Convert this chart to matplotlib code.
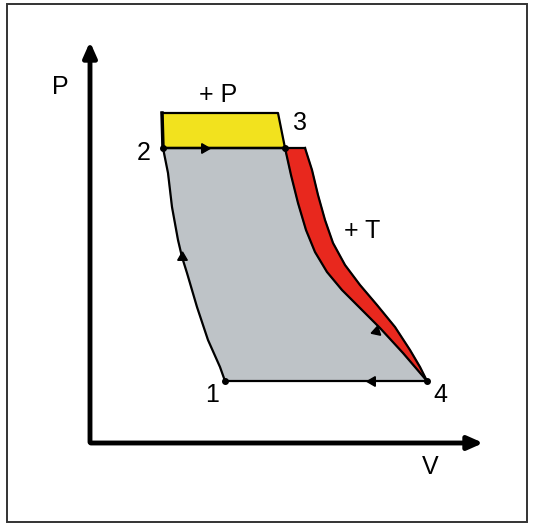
import matplotlib.pyplot as plt
import matplotlib.patches as mpatches
import numpy as np

# 点的坐标 (V, P)，从图上读出来的
v12 = [3.375, 3.25, 2.95, 2.675, 2.425, 2.3, 2.2, 2.05, 1.95, 1.825]
p12 = [1.55, 1.9, 2.575, 3.4, 4.25, 4.65, 5.075, 5.9, 6.75, 7.375]

v34 = [4.875, 5.025, 5.2, 5.4, 5.625, 5.925, 6.3, 6.75, 7.25, 7.825, 8.425]
p34 = [7.375, 6.7, 6.0, 5.325, 4.775, 4.275, 3.825, 3.375, 2.875, 2.25, 1.55]

# 红色区域外边界（+T）
v_red = [5.375, 5.55, 5.7, 5.875, 6.075, 6.375, 6.75, 7.175, 7.625, 8.0, 8.25, 8.425]
p_red = [7.375, 6.825, 6.2, 5.575, 5.0, 4.45, 3.95, 3.45, 2.9, 2.325, 1.9, 1.55]

# 黄色区域（+P）
v_yel = [1.8, 4.7, 4.875, 1.825]
p_yel = [8.25, 8.25, 7.375, 7.375]

# 状态点标签
labels = ["1", "2", "3", "4"]
label_v = [3.05, 1.35, 5.25, 8.75]
label_p = [1.2, 7.25, 8.0, 1.2]

fig = plt.figure(figsize=(5.34, 5.25), dpi=100)
ax = fig.add_axes([0, 0, 1, 1])
ax.set_xlim(-2.25, 11.1)
ax.set_ylim(-2.05, 11.075)
ax.axis("off")

# 外框
fig.patches.append(mpatches.Rectangle((7/534, 3/525), 520/534, 518/525, transform=fig.transFigure,
                                      fill=False, edgecolor="#333333", linewidth=1.4))

# 灰色循环区域
cyc_v = v12 + v34 + [v12[0]]
cyc_p = p12 + p34 + [p12[0]]
ax.fill(cyc_v, cyc_p, color="#bec3c7", zorder=1)

# 红色区域
red_v = v34 + v_red[::-1]
red_p = p34 + p_red[::-1]
ax.fill(red_v, red_p, color="#e8281e", zorder=2)
ax.plot(v_red, p_red, color="black", lw=1.6, zorder=3)
ax.plot([v34[0], v_red[0]], [p34[0], p_red[0]], color="black", lw=1.6, zorder=3)

# 黄色区域
ax.fill(v_yel, p_yel, color="#f2e21e", zorder=2)
ax.plot(v_yel + [v_yel[0]], p_yel + [p_yel[0]], color="black", lw=1.6, zorder=3)
ax.plot([v_yel[0], v_yel[3]], [p_yel[0], p_yel[3]], color="black", lw=2.5, zorder=3)

# 循环边界
ax.plot(cyc_v, cyc_p, color="black", lw=1.6, zorder=4)
ax.plot([v12[-1], v34[0]], [p12[-1], p34[0]], color="black", lw=1.6, zorder=4)

# 状态点
ax.plot([v12[0], v12[-1], v34[0], v34[-1]], [p12[0], p12[-1], p34[0], p34[-1]],
        "o", color="black", ms=4, zorder=5)

# 方向箭头
ax.plot(2.85, 7.375, marker=(3, 0, -90), color="black", ms=8, zorder=5)
ax.plot(2.3, 4.65, marker=(3, 0, 0), color="black", ms=8, zorder=5)
ax.plot(7.15, 2.8, marker=(3, 0, -132), color="black", ms=8, zorder=5)
ax.plot(7.05, 1.55, marker=(3, 0, 90), color="black", ms=8, zorder=5)

# 坐标轴
ax.annotate("", xy=(0, 10.1), xytext=(0, -0.05),
            arrowprops=dict(arrowstyle="-|>,head_length=0.9,head_width=0.4", lw=3.5, color="black"))
ax.annotate("", xy=(9.9, 0), xytext=(-0.05, 0),
            arrowprops=dict(arrowstyle="-|>,head_length=0.9,head_width=0.4", lw=3.5, color="black"))

fs = 18
ax.text(-0.75, 8.9, "P", fontsize=fs, ha="center", va="center", family="Liberation Sans")
ax.text(8.5, -0.6, "V", fontsize=fs, ha="center", va="center", family="Liberation Sans")
ax.text(3.2, 8.7, "+ P", fontsize=fs, ha="center", va="center", family="Liberation Sans")
ax.text(6.8, 5.3, "+ T", fontsize=fs, ha="center", va="center", family="Liberation Sans")
for s, v, p in zip(labels, label_v, label_p):
    ax.text(v, p, s, fontsize=fs, ha="center", va="center", family="Liberation Sans")

fig.savefig("out.png", dpi=100)
